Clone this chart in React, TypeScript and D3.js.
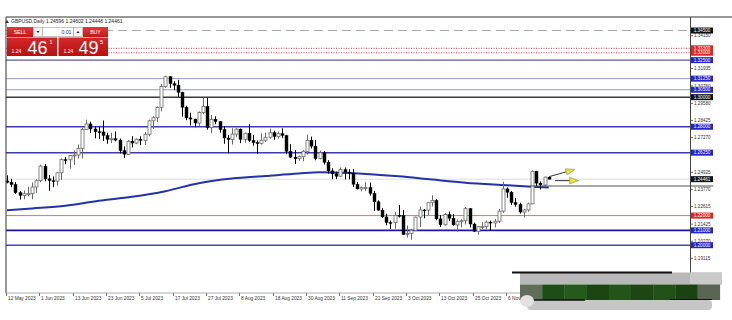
import React from 'react';
import * as d3 from 'd3';

const W = 732;
const H = 320;

// Daily candles, 22 May 2023 .. 20 Nov 2023: [open, high, low, close]
const candles: [number, number, number, number][] = [
  [1.2434, 1.2472, 1.2418, 1.2425], [1.2425, 1.2448, 1.2392, 1.2410], [1.2410, 1.2426, 1.2347, 1.2355],
  [1.2355, 1.2366, 1.2308, 1.2336], [1.2336, 1.2370, 1.2310, 1.2347], [1.2347, 1.2394, 1.2331, 1.2348],
  [1.2348, 1.2423, 1.2310, 1.2393], [1.2393, 1.2445, 1.2353, 1.2436], [1.2436, 1.2544, 1.2425, 1.2534],
  [1.2534, 1.2547, 1.2432, 1.2448], [1.2448, 1.2474, 1.2368, 1.2436], [1.2436, 1.2464, 1.2392, 1.2433],
  [1.2433, 1.2495, 1.2403, 1.2489], [1.2489, 1.2586, 1.2440, 1.2578], [1.2578, 1.2595, 1.2547, 1.2577],
  [1.2577, 1.2608, 1.2517, 1.2606], [1.2606, 1.2640, 1.2542, 1.2609], [1.2609, 1.2680, 1.2586, 1.2653],
  [1.2653, 1.2792, 1.2588, 1.2782], [1.2782, 1.2848, 1.2778, 1.2819], [1.2819, 1.2834, 1.2760, 1.2785],
  [1.2785, 1.2802, 1.2722, 1.2767], [1.2767, 1.2802, 1.2717, 1.2765], [1.2765, 1.2842, 1.2703, 1.2741],
  [1.2741, 1.2760, 1.2685, 1.2715], [1.2715, 1.2760, 1.2690, 1.2719], [1.2719, 1.2768, 1.2702, 1.2710],
  [1.2710, 1.2720, 1.2620, 1.2639], [1.2639, 1.2667, 1.2590, 1.2614], [1.2614, 1.2711, 1.2610, 1.2702],
  [1.2702, 1.2736, 1.2660, 1.2690], [1.2690, 1.2722, 1.2682, 1.2716], [1.2716, 1.2736, 1.2676, 1.2708],
  [1.2708, 1.2765, 1.2677, 1.2749], [1.2749, 1.2848, 1.2735, 1.2840], [1.2840, 1.2871, 1.2785, 1.2861],
  [1.2861, 1.2938, 1.2832, 1.2930], [1.2930, 1.3090, 1.2904, 1.3072], [1.3072, 1.3144, 1.3063, 1.3138],
  [1.3138, 1.3142, 1.3063, 1.3091], [1.3091, 1.3108, 1.3047, 1.3080], [1.3080, 1.3117, 1.3002, 1.3033],
  [1.3033, 1.3036, 1.2868, 1.2932], [1.2932, 1.2942, 1.2845, 1.2860], [1.2860, 1.2895, 1.2808, 1.2852],
  [1.2852, 1.2854, 1.2797, 1.2825], [1.2825, 1.2904, 1.2806, 1.2896], [1.2896, 1.2996, 1.2885, 1.2938],
  [1.2938, 1.2995, 1.2780, 1.2794], [1.2794, 1.2880, 1.2757, 1.2850], [1.2850, 1.2871, 1.2817, 1.2835],
  [1.2835, 1.2838, 1.2760, 1.2781], [1.2781, 1.2805, 1.2685, 1.2724], [1.2724, 1.2745, 1.2620, 1.2713],
  [1.2713, 1.2790, 1.2680, 1.2750], [1.2750, 1.2790, 1.2730, 1.2784], [1.2784, 1.2788, 1.2689, 1.2715],
  [1.2715, 1.2760, 1.2692, 1.2756], [1.2756, 1.2818, 1.2698, 1.2707], [1.2707, 1.2745, 1.2672, 1.2693],
  [1.2693, 1.2708, 1.2616, 1.2688], [1.2688, 1.2755, 1.2679, 1.2709], [1.2709, 1.2761, 1.2697, 1.2729],
  [1.2729, 1.2788, 1.2719, 1.2760], [1.2760, 1.2773, 1.2712, 1.2734], [1.2734, 1.2768, 1.2720, 1.2753],
  [1.2753, 1.2790, 1.2724, 1.2741], [1.2741, 1.2746, 1.2615, 1.2634], [1.2634, 1.2682, 1.2589, 1.2595],
  [1.2595, 1.2642, 1.2548, 1.2584], [1.2584, 1.2606, 1.2570, 1.2598], [1.2598, 1.2642, 1.2566, 1.2634],
  [1.2634, 1.2746, 1.2612, 1.2708], [1.2708, 1.2734, 1.2653, 1.2669], [1.2669, 1.2710, 1.2574, 1.2585],
  [1.2585, 1.2640, 1.2580, 1.2624], [1.2624, 1.2635, 1.2545, 1.2560], [1.2560, 1.2574, 1.2483, 1.2502],
  [1.2502, 1.2520, 1.2446, 1.2482], [1.2482, 1.2497, 1.2446, 1.2466], [1.2466, 1.2526, 1.2460, 1.2511],
  [1.2511, 1.2525, 1.2444, 1.2494], [1.2494, 1.2513, 1.2445, 1.2487], [1.2487, 1.2515, 1.2392, 1.2412],
  [1.2412, 1.2426, 1.2377, 1.2380], [1.2380, 1.2397, 1.2364, 1.2389], [1.2389, 1.2425, 1.2365, 1.2390],
  [1.2390, 1.2424, 1.2335, 1.2350], [1.2350, 1.2366, 1.2231, 1.2293], [1.2293, 1.2303, 1.2232, 1.2237],
  [1.2237, 1.2250, 1.2186, 1.2191], [1.2191, 1.2212, 1.2134, 1.2153], [1.2153, 1.2166, 1.2110, 1.2152],
  [1.2152, 1.2226, 1.2111, 1.2202], [1.2202, 1.2271, 1.2187, 1.2200], [1.2200, 1.2239, 1.2069, 1.2072],
  [1.2072, 1.2133, 1.2052, 1.2080], [1.2080, 1.2110, 1.2037, 1.2101], [1.2101, 1.2192, 1.2096, 1.2190],
  [1.2190, 1.2261, 1.2123, 1.2238], [1.2238, 1.2244, 1.2182, 1.2237], [1.2237, 1.2288, 1.2205, 1.2287],
  [1.2287, 1.2337, 1.2262, 1.2303], [1.2303, 1.2311, 1.2168, 1.2178], [1.2178, 1.2204, 1.2123, 1.2138],
  [1.2138, 1.2217, 1.2132, 1.2207], [1.2207, 1.2227, 1.2163, 1.2182], [1.2182, 1.2210, 1.2132, 1.2137],
  [1.2137, 1.2175, 1.2090, 1.2159], [1.2159, 1.2176, 1.2120, 1.2165], [1.2165, 1.2258, 1.2140, 1.2247],
  [1.2247, 1.2251, 1.2120, 1.2143], [1.2143, 1.2152, 1.2090, 1.2094], [1.2094, 1.2130, 1.2070, 1.2125],
  [1.2125, 1.2155, 1.2108, 1.2127], [1.2127, 1.2167, 1.2110, 1.2156], [1.2156, 1.2165, 1.2096, 1.2150],
  [1.2150, 1.2178, 1.2120, 1.2162], [1.2162, 1.2245, 1.2150, 1.2230], [1.2230, 1.2428, 1.2218, 1.2380],
  [1.2380, 1.2390, 1.2320, 1.2358], [1.2358, 1.2366, 1.2272, 1.2288], [1.2288, 1.2318, 1.2260, 1.2275],
  [1.2275, 1.2287, 1.2214, 1.2224], [1.2224, 1.2245, 1.2187, 1.2238], [1.2238, 1.2287, 1.2226, 1.2279],
  [1.2279, 1.2505, 1.2277, 1.2499], [1.2499, 1.2503, 1.2398, 1.2419], [1.2419, 1.2431, 1.2376, 1.2407],
  [1.2407, 1.2463, 1.2401, 1.2460], [1.24596, 1.24602, 1.24448, 1.24461],
];

// Time axis labels (one every 8 bars)
const dateLabels = [
  '12 May 2023', '1 Jun 2023', '13 Jun 2023', '23 Jun 2023', '5 Jul 2023', '17 Jul 2023',
  '27 Jul 2023', '8 Aug 2023', '18 Aug 2023', '30 Aug 2023', '11 Sep 2023', '21 Sep 2023',
  '3 Oct 2023', '13 Oct 2023', '25 Oct 2023', '6 Nov 2023',
];
const dateStep = 8;

// Price axis ticks
const priceTicks = [1.19115, 1.20270, 1.21425, 1.22615, 1.23770, 1.24925, 1.27270, 1.28425, 1.29580, 1.30760, 1.31935, 1.34150];

// Moving average, sampled (bar index, price)
const maIndex = [0, 6, 14, 22, 30, 38, 46, 54, 62, 70, 75, 82, 94, 102, 110, 120, 126, 130];
const maValue = [1.2236, 1.2248, 1.2266, 1.2300, 1.2327, 1.2365, 1.2419, 1.2450, 1.2467, 1.2484, 1.2492, 1.2488, 1.2465, 1.2443, 1.2422, 1.2405, 1.2395, 1.2389];

// Horizontal levels
const levelValues = [1.34500, 1.33300, 1.33000, 1.32500, 1.31250, 1.30500, 1.30000, 1.28000, 1.26250, 1.24461, 1.22000, 1.21000, 1.20000];
const levelKinds = ['dash', 'redDot', 'redDot', 'slate', 'lav', 'lav', 'black', 'blue', 'blue', 'bid', 'red', 'navy', 'blue2'];

// Trend segment and arrows (bar index, price)
const segIndex = [125.5, 169.5];
const segPrice = 1.2400;
const arrowFrom: [number, number][] = [[130.1, 1.2463], [131.5, 1.2436]];
const arrowTo: [number, number][] = [[136.3, 1.2512], [137.2, 1.2436]];

const title = 'GBPUSD,Daily  1.24596 1.24602 1.24448 1.24461';

const lineStyle: Record<string, { stroke: string; w: number; dash?: string; label: string }> = {
  dash: { stroke: '#a8a8a8', w: 1, dash: '9 5', label: '#111' },
  redDot: { stroke: '#e04848', w: 1, dash: '1 1.5', label: '#e52424' },
  slate: { stroke: '#5a5aa8', w: 1.4, label: '#2424c8' },
  lav: { stroke: '#9898cc', w: 1, label: '#2424c8' },
  black: { stroke: '#3a3a3a', w: 1.5, label: '#111' },
  blue: { stroke: '#3c3cae', w: 1.5, label: '#2424c8' },
  bid: { stroke: '#dcdcdc', w: 1, label: '#111' },
  red: { stroke: '#d87474', w: 1, label: '#e52424' },
  navy: { stroke: '#1818a4', w: 1.6, label: '#2424c8' },
  blue2: { stroke: '#4848b4', w: 1.5, label: '#2424c8' },
};

const FONT = 'Liberation Sans, Arial, sans-serif';

export default function App() {
  const left = 6;
  const axisX = 690.5;
  const top = 17;
  const bottom = 293;

  const y = d3.scaleLinear().domain([1.19115, 1.31935]).range([258.3, 68.5]);
  const barW = 4.1667;
  const x = d3.scaleLinear().domain([0, 1]).range([7, 7 + barW]);

  const maLine = d3.line<number>()
    .x((_, i) => x(maIndex[i]))
    .y((d) => y(d))
    .curve(d3.curveMonotoneX)(maValue) as string;

  const fmt = (v: number) => v.toFixed(5);

  return (
    <svg width={W} height={H} style={{ position: 'absolute', left: 0, top: 0, background: '#fff' }} fontFamily={FONT}>
      <defs>
        <linearGradient id="redBtn" x1="0" y1="0" x2="0" y2="1">
          <stop offset="0" stopColor="#e43a3a" />
          <stop offset="1" stopColor="#c41616" />
        </linearGradient>
        <linearGradient id="redBox" x1="0" y1="0" x2="0" y2="1">
          <stop offset="0" stopColor="#d62828" />
          <stop offset="1" stopColor="#b81010" />
        </linearGradient>
        <clipPath id="plot">
          <rect x={left} y={top} width={axisX - left} height={bottom - top} />
        </clipPath>
      </defs>

      {/* levels */}
      <g clipPath="url(#plot)">
        {levelValues.map((v, i) => {
          const s = lineStyle[levelKinds[i]];
          return (
            <line key={'lv' + i} x1={left} x2={axisX} y1={y(v)} y2={y(v)} stroke={s.stroke}
              strokeWidth={s.w} strokeDasharray={s.dash} />
          );
        })}
      </g>

      {/* moving average */}
      <path d={maLine} fill="none" stroke="#2233aa" strokeWidth={2} clipPath="url(#plot)" />

      {/* candles */}
      <g>
        {candles.map(([o, h, l, c], i) => {
          const cx = Math.round(x(i)) + 0.5;
          const bull = c >= o;
          const yTop = y(Math.max(o, c));
          const yBot = y(Math.min(o, c));
          const col = bull ? '#6a6a6a' : '#000';
          return (
            <g key={'c' + i}>
              <line x1={cx} x2={cx} y1={y(h)} y2={y(l)} stroke={col} strokeWidth={1} />
              <rect x={cx - 1.5} y={yTop} width={3} height={Math.max(1, yBot - yTop)}
                fill={bull ? '#fff' : '#000'} stroke={col} strokeWidth={bull ? 0.8 : 0.4} />
            </g>
          );
        })}
      </g>

      {/* horizontal segment */}
      <line x1={x(segIndex[0])} x2={x(segIndex[1])} y1={y(segPrice)} y2={y(segPrice)} stroke="#505050" strokeWidth={1.2} />

      {/* arrows */}
      {arrowFrom.map((f, i) => {
        const t = arrowTo[i];
        const x1 = x(f[0]), y1 = y(f[1]), x2 = x(t[0]), y2 = y(t[1]);
        const ang = Math.atan2(y2 - y1, x2 - x1);
        const len = 9, wid = 3.2;
        const bx = x2 - len * Math.cos(ang), by = y2 - len * Math.sin(ang);
        const px = -Math.sin(ang) * wid, py = Math.cos(ang) * wid;
        return (
          <g key={'ar' + i}>
            <line x1={x1} y1={y1} x2={bx} y2={by} stroke="#333" strokeWidth={1} />
            <polygon points={`${x2},${y2} ${bx + px},${by + py} ${bx - px},${by - py}`} fill="#e9e23a" stroke="#8a8a40" strokeWidth={0.6} />
          </g>
        );
      })}

      {/* frame */}
      <line x1={left} x2={W} y1={top} y2={top} stroke="#333" strokeWidth={1} />
      <line x1={left} x2={left} y1={top} y2={bottom} stroke="#333" strokeWidth={1} />
      <line x1={axisX} x2={axisX} y1={top} y2={bottom} stroke="#444" strokeWidth={1} />
      <line x1={left} x2={axisX} y1={bottom} y2={bottom} stroke="#999" strokeWidth={0.8} />

      {/* price ticks */}
      {priceTicks.map((v, i) => (
        <g key={'pt' + i}>
          <line x1={axisX} x2={axisX + 2.5} y1={y(v)} y2={y(v)} stroke="#444" strokeWidth={0.8} />
          <text x={axisX + 3.5} y={y(v) + 1.7} fontSize={4.6} fill="#333">{fmt(v)}</text>
        </g>
      ))}

      {/* level labels */}
      {levelValues.map((v, i) => {
        const s = lineStyle[levelKinds[i]];
        return (
          <g key={'ll' + i}>
            <rect x={axisX + 0.5} y={y(v) - 3} width={22} height={6} fill={s.label} />
            <text x={axisX + 11.5} y={y(v) + 1.7} fontSize={4.6} fill="#fff" textAnchor="middle">{fmt(v)}</text>
          </g>
        );
      })}

      {/* time axis */}
      {dateLabels.map((d, i) => {
        const tx = Math.round(x(i * dateStep)) - 0.5;
        return (
          <g key={'dt' + i}>
            <line x1={tx} x2={tx} y1={bottom} y2={bottom + 3} stroke="#555" strokeWidth={0.8} />
            <text x={tx + 1.5} y={bottom + 6.5} fontSize={4.8} fill="#333">{d}</text>
          </g>
        );
      })}

      {/* title */}
      <polygon points="5,23 7,20 9,23" fill="#333" />
      <text x={11} y={23.2} fontSize={5} fill="#222">{title}</text>

      {/* one-click trading panel */}
      <g>
        <rect x={7} y={27} width={26} height={10} fill="url(#redBtn)" />
        <text x={20} y={34} fontSize={5.2} fill="#fff" textAnchor="middle">SELL</text>
        <rect x={33.5} y={27.5} width={9} height={9} fill="#f4f4f4" stroke="#a0a0a0" strokeWidth={0.6} />
        <polygon points="36.5,31 39.5,31 38,33" fill="#222" />
        <rect x={42.5} y={27.5} width={31} height={9} fill="#fff" stroke="#a0a0a0" strokeWidth={0.6} />
        <text x={71.5} y={34} fontSize={5.2} fill="#333" textAnchor="end">0.01</text>
        <rect x={73.5} y={27.5} width={9} height={9} fill="#f4f4f4" stroke="#a0a0a0" strokeWidth={0.6} />
        <polygon points="76.5,33 79.5,33 78,31" fill="#222" />
        <rect x={83} y={27} width={25} height={10} fill="url(#redBtn)" />
        <text x={95.5} y={34} fontSize={5.2} fill="#fff" textAnchor="middle">BUY</text>

        <rect x={7} y={37.5} width={50} height={18.5} fill="url(#redBox)" />
        <text x={11.5} y={52.5} fontSize={5} fill="#fff">1.24</text>
        <text x={27.5} y={53.5} fontSize={18} fill="#fff">46</text>
        <text x={49.5} y={43.5} fontSize={5.5} fill="#fff">1</text>

        <rect x={58.5} y={37.5} width={49.5} height={18.5} fill="url(#redBox)" />
        <text x={63.5} y={52.5} fontSize={5} fill="#fff">1.24</text>
        <text x={78.5} y={53.5} fontSize={18} fill="#fff">49</text>
        <text x={100} y={43.5} fontSize={5.5} fill="#fff">5</text>
      </g>

      {/* blurred overlay at bottom right */}
      <g>
        <rect x={520} y={272.5} width={202} height={12} fill="#b8b8b8" />
        <rect x={690} y={272.5} width={32} height={12} fill="#cacaca" />
        <line x1={512} x2={672} y1={272.5} y2={272.5} stroke="#111" strokeWidth={2} />
        {['#5f6d5a', '#1e4e17', '#245a1c', '#1a4512', '#235419', '#1c4715', '#215018', '#1a4312', '#5a6452'].map((c, i) => (
          <rect key={'ov' + i} x={520 + i * 22.2} y={284.5} width={22.5} height={15.5} fill={c} />
        ))}
        <rect x={527} y={300} width={185} height={10} rx={4} fill="#c6c6c6" />
        <line x1={527} x2={585} y1={300} y2={300} stroke="#111" strokeWidth={1.5} />
        <line x1={670} x2={712} y1={299.5} y2={299.5} stroke="#111" strokeWidth={1} />
        <ellipse cx={527} cy={301} rx={7} ry={6} fill="#e2e2e2" />
      </g>
    </svg>
  );
}
